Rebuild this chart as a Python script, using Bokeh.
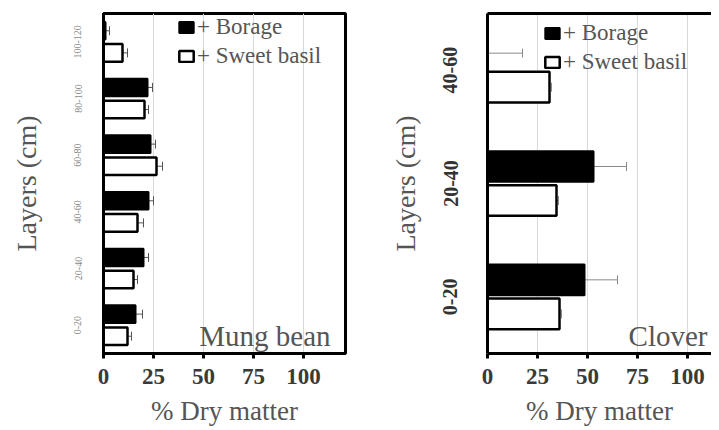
from bokeh.plotting import figure
from bokeh.models import (FactorRange, Range1d, Whisker, TeeHead, Legend, LegendItem,
                          Label, FixedTicker, LinearAxis, ColumnDataSource)
from bokeh.transform import dodge
from bokeh.layouts import row
from bokeh.embed import file_html
from bokeh.resources import INLINE

# ---- data ----
mung_layers = ["0-20", "20-40", "40-60", "60-80", "80-100", "100-120"]
mung_borage = [16, 20, 22.5, 23.5, 22, 1]
mung_borage_err = [3.5, 2.5, 2.5, 2.5, 2.5, 2]
mung_basil = [12, 15, 17, 26.5, 20.5, 9.5]
mung_basil_err = [2, 2, 3, 3, 2, 2.5]

clover_layers = ["0-20", "20-40", "40-60"]
clover_borage = [48.5, 53, 0]
clover_borage_err = [16.5, 16.5, 17.5]
clover_basil = [36, 34.5, 31]
clover_basil_err = [1, 1, 1]

x_ticks = [0, 25, 50, 75, 100]
series_labels = ["+ Borage", "+ Sweet basil"]

SERIF = "Liberation Serif"


def make_panel(layers, bor, bor_e, bas, bas_e, name, width, xmax, bl, br, off, bh,
               ytick_size, ytick_bold, ytick_color, ylab_standoff, ytitle_standoff,
               whisker_color, leg_loc, name_y, name_x, right_open):
    src = ColumnDataSource(dict(
        layer=layers, bor=bor, bas=bas,
        bor_hi=[v + e for v, e in zip(bor, bor_e)],
        bas_hi=[v + e for v, e in zip(bas, bas_e)],
    ))
    p = figure(width=width, height=428, y_range=FactorRange(*layers, range_padding=0),
               x_range=Range1d(0, xmax), output_backend="svg", toolbar_location=None,
               min_border_left=bl, min_border_right=br, min_border_top=13,
               min_border_bottom=10)
    p.background_fill_color = "white"
    p.border_fill_color = "white"

    rb = p.hbar(y=dodge("layer", off, range=p.y_range), right="bor", left=0, height=bh,
                source=src, fill_color="black", line_color="black", line_width=2)
    rs = p.hbar(y=dodge("layer", -off, range=p.y_range), right="bas", left=0, height=bh,
                source=src, fill_color="white", line_color="black", line_width=2.5)

    for col, hi, o in (("bor", "bor_hi", off), ("bas", "bas_hi", -off)):
        w = Whisker(base=dodge("layer", o, range=p.y_range), lower=col, upper=hi,
                    dimension="width", source=src, line_color=whisker_color, line_width=1,
                    lower_head=None,
                    upper_head=TeeHead(size=9, line_color=whisker_color, line_width=1))
        p.add_layout(w)

    # grid
    p.ygrid.grid_line_color = None
    p.xgrid.ticker = FixedTicker(ticks=x_ticks)
    p.xgrid.grid_line_color = "#d9d9d9"
    p.xgrid.grid_line_width = 1

    # x axis (bottom)
    xa = p.below[0]
    xa.ticker = FixedTicker(ticks=x_ticks)
    xa.axis_line_width = 3
    xa.axis_line_color = "black"
    xa.major_tick_line_width = 3
    xa.major_tick_line_color = "black"
    xa.major_tick_out = 5
    xa.major_tick_in = 0
    xa.minor_tick_line_color = None
    xa.major_label_text_font = SERIF
    xa.major_label_text_font_style = "bold"
    xa.major_label_text_font_size = "23px"
    xa.major_label_text_color = "#3a3a3a"
    xa.major_label_standoff = 10
    xa.axis_label = "% Dry matter"
    xa.axis_label_text_font = SERIF
    xa.axis_label_text_font_style = "normal"
    xa.axis_label_text_font_size = "27px"
    xa.axis_label_text_color = "#555555"
    xa.axis_label_standoff = 9

    # y axis
    ya = p.left[0]
    ya.axis_line_width = 3
    ya.axis_line_color = "black"
    ya.major_tick_line_color = None
    ya.minor_tick_line_color = None
    ya.major_label_orientation = "vertical"
    ya.major_label_text_font = SERIF
    ya.major_label_text_font_size = ytick_size
    ya.major_label_text_font_style = "bold" if ytick_bold else "normal"
    ya.major_label_text_color = ytick_color
    ya.major_label_standoff = ylab_standoff
    ya.axis_label = "Layers (cm)"
    ya.axis_label_text_font = SERIF
    ya.axis_label_text_font_style = "normal"
    ya.axis_label_text_font_size = "28px"
    ya.axis_label_text_color = "#555555"
    ya.axis_label_standoff = ytitle_standoff

    # frame
    if right_open:
        p.outline_line_color = None
        top = LinearAxis(ticker=FixedTicker(ticks=[]), axis_line_width=3,
                         axis_line_color="black", major_label_text_font_size="0px",
                         major_tick_out=0, major_tick_in=0, minor_tick_out=0,
                         minor_tick_in=0, major_label_standoff=0)
        p.add_layout(top, "above")
    else:
        p.outline_line_color = "black"
        p.outline_line_width = 3
        p.outline_line_alpha = 1

    legend = Legend(items=[LegendItem(label=series_labels[0], renderers=[rb]),
                           LegendItem(label=series_labels[1], renderers=[rs])],
                    location=leg_loc, orientation="vertical",
                    label_text_font=SERIF, label_text_font_size="23px",
                    label_text_color="#555555", glyph_width=18, glyph_height=14,
                    label_standoff=2, spacing=3, padding=0, margin=0,
                    background_fill_alpha=0, border_line_alpha=0, label_height=25)
    p.add_layout(legend, "center")

    p.add_layout(Label(x=name_x, y=name_y, x_units="data", y_units="screen", text=name,
                       text_align="right", text_baseline="alphabetic",
                       text_font=SERIF, text_font_size="29px", text_color="#555555"))
    return p


p1 = make_panel(mung_layers, mung_borage, mung_borage_err, mung_basil, mung_basil_err,
                "Mung bean", width=352, xmax=121, bl=103, br=7, off=0.195, bh=0.31,
                ytick_size="10px", ytick_bold=False, ytick_color="#8a8a8a",
                ylab_standoff=16, ytitle_standoff=30, whisker_color="#555555",
                leg_loc=(74, 284), name_y=18, name_x=113.5, right_open=False)

p2 = make_panel(clover_layers, clover_borage, clover_borage_err, clover_basil, clover_basil_err,
                "Clover", width=359, xmax=112, bl=135, br=0, off=0.15, bh=0.27,
                ytick_size="20px", ytick_bold=True, ytick_color="#333333",
                ylab_standoff=24, ytitle_standoff=20, whisker_color="#8a8a8a",
                leg_loc=(56, 278), name_y=18, name_x=110, right_open=True)

layout = row(p1, p2, spacing=0)
open("out.html", "w").write(file_html(layout, INLINE))
